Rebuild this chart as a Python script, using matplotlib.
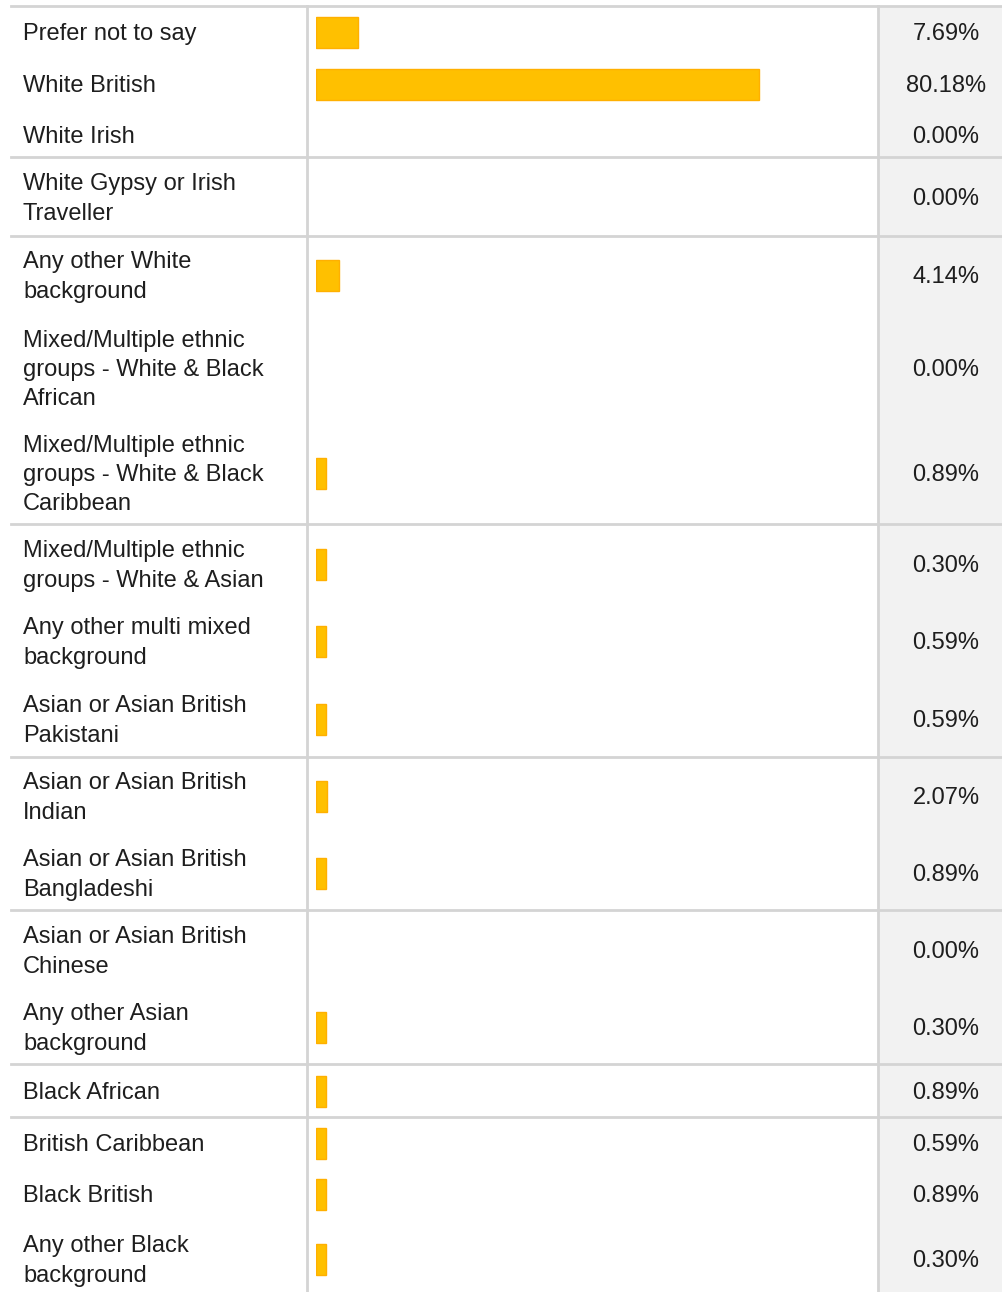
import numpy as np
from matplotlib import pyplot as plt

plt.rcParams['font.family'] = ['Liberation Sans', 'DejaVu Sans']

# data
labels = ['Prefer not to say', 'White British', 'White Irish',
          'White Gypsy or Irish\nTraveller',
          'Any other White\nbackground',
          'Mixed/Multiple ethnic\ngroups - White & Black\nAfrican',
          'Mixed/Multiple ethnic\ngroups - White & Black\nCaribbean',
          'Mixed/Multiple ethnic\ngroups - White & Asian',
          'Any other multi mixed\nbackground',
          'Asian or Asian British\nPakistani',
          'Asian or Asian British\nIndian',
          'Asian or Asian British\nBangladeshi',
          'Asian or Asian British\nChinese',
          'Any other Asian\nbackground',
          'Black African', 'British Caribbean', 'Black British',
          'Any other Black\nbackground']
values = [7.69, 80.18, 0.00, 0.00, 4.14, 0.00, 0.89, 0.30, 0.59, 0.59,
          2.07, 0.89, 0.00, 0.30, 0.89, 0.59, 0.89, 0.30]

# layout (pixels)
W, H = 1002, 1292
row_y = [32, 84, 135, 197, 275, 368, 473, 564, 641, 719, 796, 873, 950,
         1027, 1091, 1143, 1194, 1259]
sep_y = [6, 157, 236, 524, 757, 910, 1064, 1117]
col1, col2 = 307, 878
bar_left = 316
px_per_pct = 5.525
min_pct = 1.8  # tiny values still get a visible bar

line_col = '#d4d4d4'
txt_col = '#1e1e1e'

fig = plt.figure(figsize=(W / 100, H / 100), dpi=100)
ax = fig.add_axes([0, 0, 1, 1])
ax.set_xlim(0, W)
ax.set_ylim(H, 0)
ax.axis('off')

# shaded percent column
ax.add_patch(plt.Rectangle((col2, sep_y[0]), W - col2, H - sep_y[0],
                           facecolor='#f2f2f2', edgecolor='none', zorder=0))

for y in sep_y:
    ax.plot([11, W], [y, y], color=line_col, lw=2, zorder=1)
ax.plot([col1, col1], [sep_y[0], H], color=line_col, lw=2, zorder=1)
ax.plot([col2, col2], [sep_y[0], H], color=line_col, lw=2, zorder=1)

for lab, v, y in zip(labels, values, row_y):
    ax.text(23, y + 2, lab, ha='left', va='center', fontsize=17,
            color=txt_col, linespacing=1.42)
    ax.text(946, y + 2, '%.2f%%' % v, ha='center', va='center', fontsize=17,
            color=txt_col)

# bars (only non-zero answers get one)
bx = fig.add_axes([bar_left / W, 0, (col2 - bar_left) / W, 1])
bx.set_xlim(0, (col2 - bar_left) / px_per_pct)
bx.set_ylim(H, 0)
bx.axis('off')
bar_y = [y for y, v in zip(row_y, values) if v > 0]
widths = [max(v, min_pct) for v in values if v > 0]
bx.barh(bar_y, widths, height=31, left=0, color='#ffc000',
        edgecolor='#ffb000', linewidth=1)

fig.savefig('out.png', dpi=100)
